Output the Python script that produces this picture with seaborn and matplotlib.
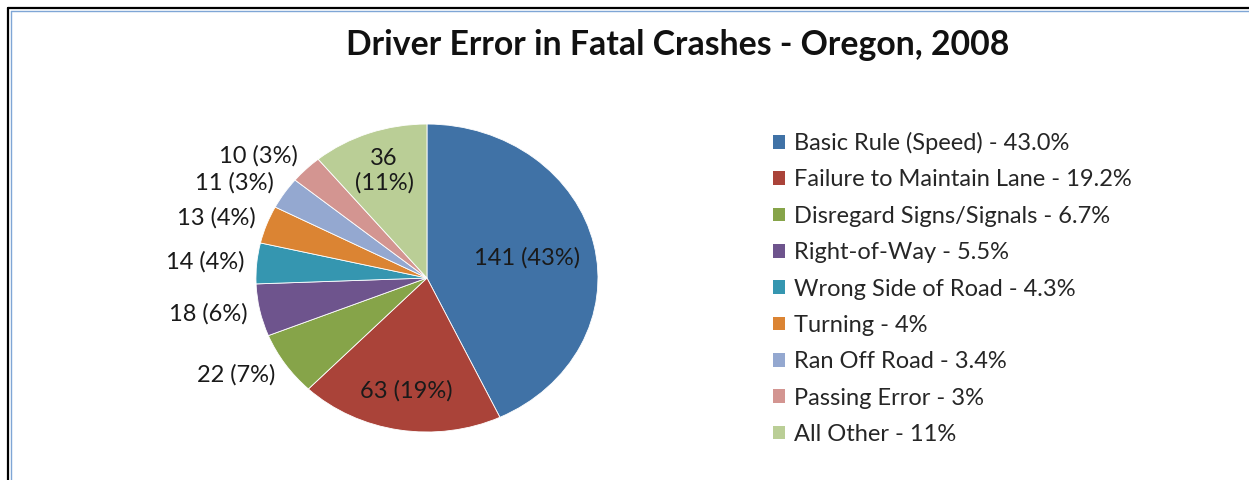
import matplotlib
matplotlib.use("Agg")
import matplotlib.pyplot as plt
from matplotlib.lines import Line2D
from matplotlib.patches import Patch
import numpy as np
import seaborn as sns

# ---- data ----
title = "Driver Error in Fatal Crashes - Oregon, 2008"
categories = ["Basic Rule (Speed)", "Failure to Maintain Lane", "Disregard Signs/Signals",
              "Right-of-Way", "Wrong Side of Road", "Turning", "Ran Off Road",
              "Passing Error", "All Other"]
counts = [141, 63, 22, 18, 14, 13, 11, 10, 36]
slice_pct_labels = ["43%", "19%", "7%", "6%", "4%", "4%", "3%", "3%", "11%"]
legend_pct = ["43.0%", "19.2%", "6.7%", "5.5%", "4.3%", "4%", "3.4%", "3%", "11%"]
colors = ["#4072A6", "#AA4339", "#86A449", "#6E548D", "#3596B0",
          "#DB8433", "#94A8D0", "#D39591", "#BACE96"]

sns.set_theme(style="white")
plt.rcParams["font.family"] = ["Lato", "DejaVu Sans"]
palette = sns.color_palette(colors)

fig = plt.figure(figsize=(12.49, 4.80), dpi=100)
fig.patch.set_facecolor("white")
fig.patch.set_edgecolor("none")
fig.patch.set_linewidth(0)

# pie axes (slightly elliptical as in reference)
ax = fig.add_axes([0.1707, 0.0198, 0.3423, 0.802])
wedges, _ = ax.pie(counts, colors=palette, startangle=90, counterclock=False,
                   wedgeprops=dict(edgecolor="white", linewidth=0.6))
ax.set_aspect("auto")
ax.set_xlim(-1.25, 1.25)
ax.set_ylim(-1.25, 1.25)
ax.axis("off")

fs = 17
for w, c, p in zip(wedges, counts, slice_pct_labels):
    mid = np.deg2rad((w.theta1 + w.theta2) / 2)
    frac = c / sum(counts)
    if frac > 0.1:
        r = 0.6 if frac > 0.3 else 0.74
        txt = f"{c} ({p})" if frac > 0.15 else f"{c}\n({p})"
        ax.text(r * np.cos(mid), r * np.sin(mid), txt, ha="center", va="center",
                fontsize=fs, color="#1a1a1a", linespacing=1.15)
    else:
        r = 1.07
        ax.text(r * np.cos(mid), 1.12 * np.sin(mid), f"{c} ({p})",
                ha="right" if np.cos(mid) < 0 else "left", va="center",
                fontsize=fs, color="#1a1a1a")

# legend
handles = [Patch(facecolor=col, edgecolor="none") for col in palette]
labels = [f"{cat} - {lp}" for cat, lp in zip(categories, legend_pct)]
fig.legend(handles, labels, loc="center left", bbox_to_anchor=(773 / 1249, 0.399),
           bbox_transform=fig.transFigure, frameon=False, fontsize=fs,
           handlelength=0.52, handleheight=0.52, handletextpad=0.35,
           labelspacing=0.65, borderpad=0, borderaxespad=0)

# title
fig.text(0.5424, 0.906, title, ha="center", va="center", fontsize=24.3,
         fontweight="bold", color="#111111")

# frame lines (screenshot border)
fig.add_artist(Line2D([0.0064, 1.0], [0.9833, 0.9833], color="black", lw=1.6,
                      transform=fig.transFigure))
fig.add_artist(Line2D([0.0064, 0.0064], [0.0, 0.9833], color="black", lw=1.6,
                      transform=fig.transFigure))
fig.add_artist(Line2D([0.0086, 1.0], [0.978, 0.978], color="#7FA6D6", lw=1.0,
                      transform=fig.transFigure))
fig.add_artist(Line2D([0.0086, 0.0086], [0.0, 0.978], color="#7FA6D6", lw=1.0,
                      transform=fig.transFigure))

fig.savefig("out.png", dpi=100, facecolor="white")
